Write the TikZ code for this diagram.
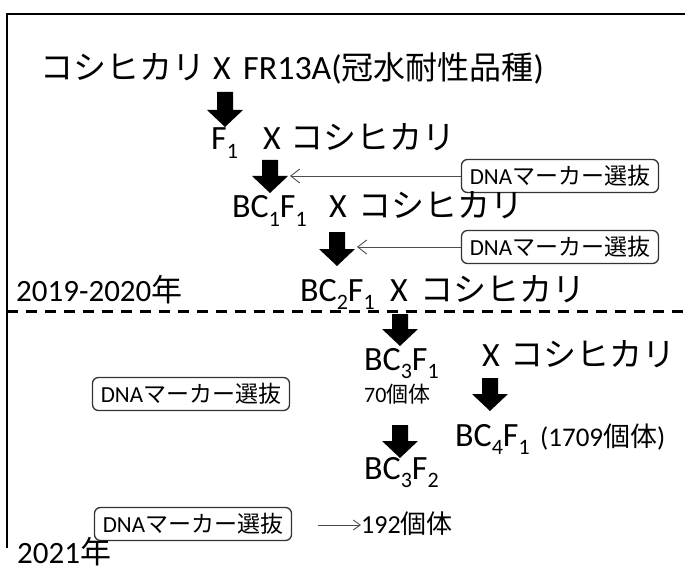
\documentclass[tikz,border=0pt]{standalone}
\usepackage{fontspec}
\setmainfont{Carlito}
\newfontfamily\jp{Noto Sans CJK JP}
\usetikzlibrary{arrows.meta}
\newcommand\msz{\fontsize{34}{34}\selectfont}
\newcommand\ksz{\fontsize{33}{33}\selectfont}
\newcommand\ssz{\fontsize{22}{22}\selectfont}
\newcommand\bsz{\fontsize{23}{23}\selectfont}
\newcommand\sbs[1]{\raisebox{-0.26em}{\fontsize{22}{22}\selectfont #1}}
\newcommand\blockarr[3]{%
  \fill ({#1-8},#2) -- ({#1+8},#2) -- ({#1+8},{#3-17}) -- ({#1+18},{#3-17})
        -- (#1,#3) -- ({#1-18},{#3-17}) -- ({#1-8},{#3-17}) -- cycle;}
\tikzset{
  txt/.style={inner sep=0pt, anchor=base west, font=\msz},
  kana/.style={inner sep=0pt, anchor=base west, font=\jp\ksz},
  small/.style={inner sep=0pt, anchor=base west, font=\ssz},
  markbox/.style={draw=black!80, line width=1.3pt, rounded corners=6pt,
    minimum width=197pt, minimum height=33pt, inner sep=0pt, font=\bsz},
  thin/.style={draw=black!70, line width=0.9pt,
    -{Straight Barb[length=9pt,width=14pt,line width=0.9pt]}},
}
\begin{document}
\begin{tikzpicture}[x=1pt,y=-1pt]
\useasboundingbox (0,0) rectangle (685,572);
% frame
\draw[line width=2pt] (7,548) -- (7,14) -- (690,14);
% dashed separator
\draw[line width=3pt, dash pattern=on 11pt off 8pt] (7,311) -- (690,311);

% line 1
\node[kana] (k0) at (40,80) {コシヒカリ};
\node[txt] (x0) at (213,80) {X};
\node[txt] (fr) at (243,80) {FR13A({\jp\fontsize{32}{32}\selectfont 冠水耐性品種})};
\blockarr{225}{92}{127}
% line 2
\node[txt] (f1) at (211,150) {F\sbs{1}};
\node[txt] (x1) at (263,150) {X};
\node[kana] (k1) at (290,150) {コシヒカリ};
\blockarr{270}{160}{193}
\node[markbox] (b1) at (560,176) {DNA{\jp マーカー選抜}};
\coordinate (t1) at (290,176);
\draw[thin] (b1.west) -- (t1);
% line 3
\node[txt] (bc1) at (232,218) {BC\sbs{1}F\sbs{1}};
\node[txt] (x2) at (329,218) {X};
\node[kana] (k2) at (358,218) {コシヒカリ};
\blockarr{337}{232}{266}
\node[markbox] (b2) at (560,247) {DNA{\jp マーカー選抜}};
\coordinate (t2) at (357,247);
\draw[thin] (b2.west) -- (t2);
% line 4
\node[txt, font=\fontsize{31}{31}\selectfont] (y1) at (16,301) {2019-2020{\jp 年}};
\node[txt] (bc2) at (300,301) {BC\sbs{2}F\sbs{1}};
\node[txt] (x3) at (390,301) {X};
\node[kana] (k3) at (420,301) {コシヒカリ};
\blockarr{400}{314}{346}
% BC3F1 row
\node[txt] (bc3) at (364,370) {BC\sbs{3}F\sbs{1}};
\node[txt] (x4) at (482,366) {X};
\node[kana] (k4) at (510,366) {コシヒカリ};
\node[small] (n70) at (364,402) {70{\jp 個体}};
\node[markbox] (b3) at (191,394) {DNA{\jp マーカー選抜}};
\blockarr{490}{378}{411}
\node[txt] (bc4) at (455,446) {BC\sbs{4}F\sbs{1}};
\node[small, font=\fontsize{27}{27}\selectfont] (n1709) at (540,446) {(1709{\jp 個体})};
\blockarr{400}{425}{458}
\node[txt] (bc32) at (364,479) {BC\sbs{3}F\sbs{2}};
\node[markbox] (b4) at (193,524) {DNA{\jp マーカー選抜}};
\coordinate (a4) at (318,525);
\node[small, font=\fontsize{26}{26}\selectfont] (n192) at (361,533) {192{\jp 個体}};
\draw[thin, -{Straight Barb[length=7pt,width=10pt,line width=0.9pt]}] (a4) -- (n192.west |- a4);
\node[txt, font=\fontsize{31}{31}\selectfont] (y2) at (17,563) {2021{\jp 年}};
\end{tikzpicture}
\end{document}
